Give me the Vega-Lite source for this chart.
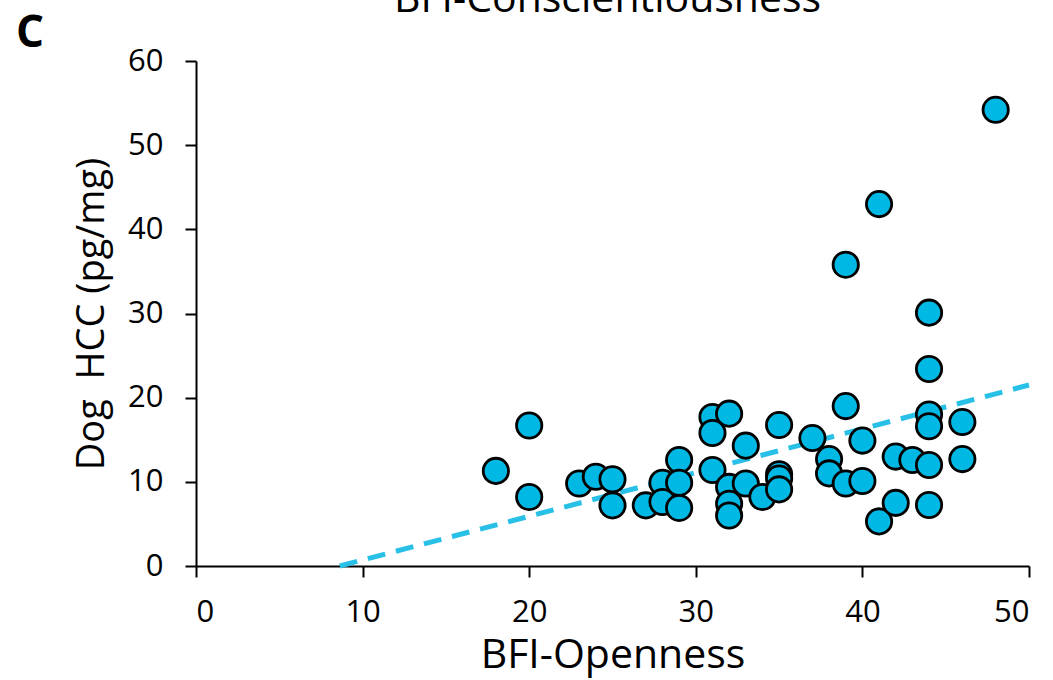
{
  "$schema": "https://vega.github.io/schema/vega-lite/v6.json",
  "width": 833,
  "height": 505,
  "autosize": "none",
  "padding": {"left": 196, "top": 61, "right": 24, "bottom": 114},
  "background": "white",
  "config": {"view": {"stroke": null}, "font": "Open Sans"},
  "datasets": {
    "pts": [
      {"openness": 18, "hcc": 11.3},
      {"openness": 20, "hcc": 16.7},
      {"openness": 20, "hcc": 8.2},
      {"openness": 23, "hcc": 9.8},
      {"openness": 24, "hcc": 10.6},
      {"openness": 25, "hcc": 10.3},
      {"openness": 25, "hcc": 7.2},
      {"openness": 27, "hcc": 7.2},
      {"openness": 28, "hcc": 9.9},
      {"openness": 28, "hcc": 7.6},
      {"openness": 29, "hcc": 12.6},
      {"openness": 29, "hcc": 9.9},
      {"openness": 29, "hcc": 6.9},
      {"openness": 31, "hcc": 17.7},
      {"openness": 31, "hcc": 15.8},
      {"openness": 31, "hcc": 11.4},
      {"openness": 32, "hcc": 18.1},
      {"openness": 32, "hcc": 9.4},
      {"openness": 32, "hcc": 7.4},
      {"openness": 32, "hcc": 6.0},
      {"openness": 33, "hcc": 14.3},
      {"openness": 33, "hcc": 9.8},
      {"openness": 34, "hcc": 8.2},
      {"openness": 35, "hcc": 16.75},
      {"openness": 35, "hcc": 10.9},
      {"openness": 35, "hcc": 10.4},
      {"openness": 35, "hcc": 9.1},
      {"openness": 37, "hcc": 15.2},
      {"openness": 38, "hcc": 12.7},
      {"openness": 38, "hcc": 11.0},
      {"openness": 39, "hcc": 35.8},
      {"openness": 39, "hcc": 19.0},
      {"openness": 39, "hcc": 9.8},
      {"openness": 40, "hcc": 14.9},
      {"openness": 40, "hcc": 10.1},
      {"openness": 41, "hcc": 43.0},
      {"openness": 41, "hcc": 5.3},
      {"openness": 42, "hcc": 13.0},
      {"openness": 42, "hcc": 7.5},
      {"openness": 43, "hcc": 12.6},
      {"openness": 44, "hcc": 30.1},
      {"openness": 44, "hcc": 23.4},
      {"openness": 44, "hcc": 18.0},
      {"openness": 44, "hcc": 16.6},
      {"openness": 44, "hcc": 12.0},
      {"openness": 44, "hcc": 7.25},
      {"openness": 46, "hcc": 17.1},
      {"openness": 46, "hcc": 12.7},
      {"openness": 48, "hcc": 54.2}
    ],
    "trend": [
      {"openness": 8.63, "hcc": 0},
      {"openness": 50, "hcc": 21.5}
    ],
    "panel": [
      {"label": "C", "openness": -9.97, "hcc": 61.66}
    ],
    "heading": [
      {"label": "BFI-Conscientiousness", "openness": 24.7, "hcc": 65.8}
    ]
  },
  "layer": [
    {
      "data": {"name": "trend"},
      "mark": {"type": "line", "color": "#29C0E8", "strokeWidth": 5, "strokeDash": [18, 11], "strokeCap": "butt"},
      "encoding": {
        "x": {"field": "openness", "type": "quantitative", "scale": {"domain": [0, 50], "nice": false, "zero": false},
          "axis": {"title": "BFI-Openness", "values": [0, 10, 20, 30, 40, 50], "grid": false, "domainColor": "black", "domainWidth": 2, "tickColor": "black", "tickWidth": 2, "tickSize": 11, "labelFontSize": 31, "labelColor": "black", "labelPadding": 20, "labelFont": "Open Sans", "titleFont": "Open Sans", "titleFontSize": 41, "titleFontWeight": "normal", "titleColor": "black", "titlePadding": 8}},
        "y": {"field": "hcc", "type": "quantitative", "scale": {"domain": [0, 60], "nice": false, "zero": false},
          "axis": {"title": "Dog\u00a0 HCC (pg/mg)", "values": [0, 10, 20, 30, 40, 50, 60], "grid": false, "domainColor": "black", "domainWidth": 2, "tickColor": "black", "tickWidth": 2, "tickSize": 11, "labelFontSize": 31, "labelColor": "black", "labelPadding": 22, "labelFont": "Open Sans", "titleFont": "Open Sans", "titleFontSize": 38, "titleFontWeight": "normal", "titleColor": "black", "titlePadding": 16}}
      }
    },
    {
      "data": {"name": "pts"},
      "mark": {"type": "point", "shape": "circle", "filled": true, "fill": "#00B8E4", "stroke": "black", "strokeWidth": 2.8, "opacity": 1, "size": 640},
      "encoding": {
        "x": {"field": "openness", "type": "quantitative"},
        "y": {"field": "hcc", "type": "quantitative"}
      }
    },
    {
      "data": {"name": "panel"},
      "mark": {"type": "text", "fontSize": 44, "fontWeight": "bold", "font": "Open Sans", "color": "black", "align": "center", "baseline": "alphabetic"},
      "encoding": {
        "x": {"field": "openness", "type": "quantitative"},
        "y": {"field": "hcc", "type": "quantitative"},
        "text": {"field": "label"}
      }
    },
    {
      "data": {"name": "heading"},
      "mark": {"type": "text", "fontSize": 41, "fontWeight": "normal", "font": "Open Sans", "color": "black", "align": "center", "baseline": "alphabetic"},
      "encoding": {
        "x": {"field": "openness", "type": "quantitative"},
        "y": {"field": "hcc", "type": "quantitative"},
        "text": {"field": "label"}
      }
    }
  ]
}
